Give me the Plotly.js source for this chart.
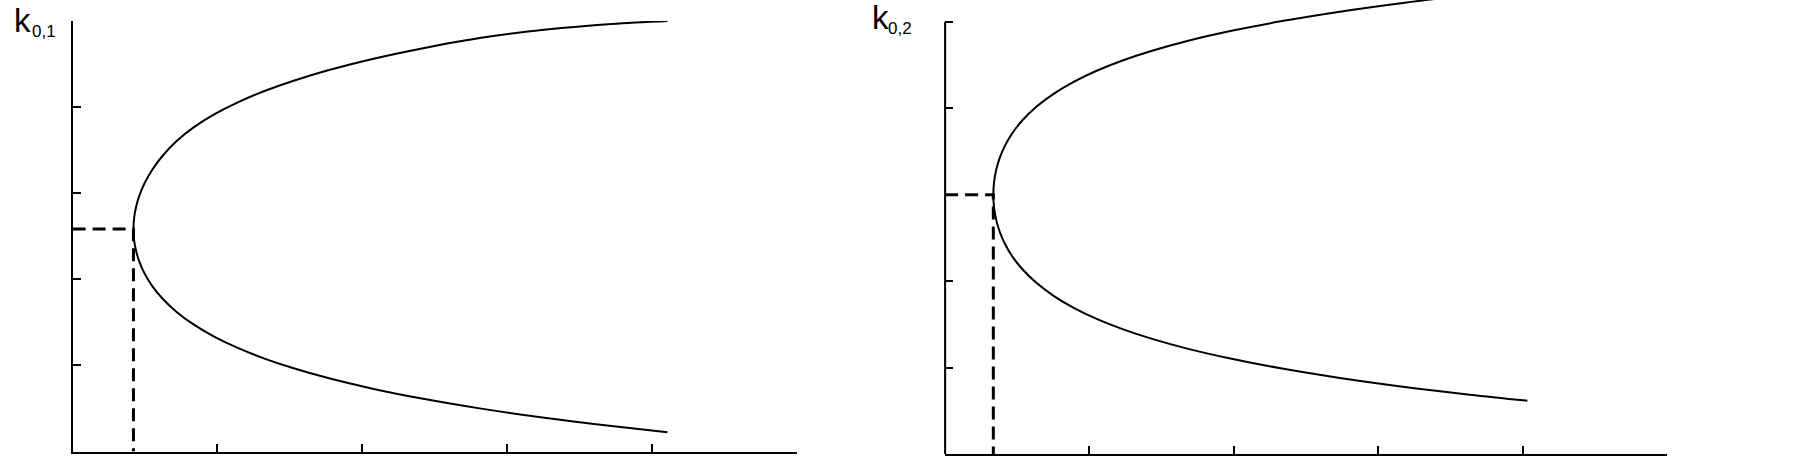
<!DOCTYPE html>
<html>
<head>
<meta charset="utf-8">
<script src="https://cdn.plot.ly/plotly-3.0.1.min.js"></script>
<style>
  html, body { margin: 0; padding: 0; background: #fff; }
  #plot { width: 1805px; height: 459px; }
</style>
</head>
<body>
<div id="plot"></div>
<script>
// panel 1 (k0,1): vertex and the two branches
const vertex1 = [0.42, 2.584];
const branch1X = [0.42, 0.425, 0.44, 0.465, 0.50, 0.55, 0.62, 0.72, 0.84, 0.98, 1.14, 1.32, 1.52, 1.77, 2.07, 2.42, 2.82, 3.27, 3.72, 4.106];
const upper1Y = [2.584, 2.719, 2.855, 2.991, 3.127, 3.273, 3.432, 3.608, 3.770, 3.918, 4.055, 4.184, 4.304, 4.431, 4.559, 4.684, 4.805, 4.900, 4.965, 5.0];
const lower1Y = [2.584, 2.449, 2.316, 2.185, 2.057, 1.921, 1.777, 1.618, 1.470, 1.332, 1.203, 1.082, 0.969, 0.850, 0.730, 0.612, 0.498, 0.389, 0.295, 0.223];

// panel 2 (k0,2): the upper branch leaves the frame at the top
const vertex2 = [0.334, 3.0];
const branch2X = [0.334, 0.339, 0.354, 0.379, 0.414, 0.464, 0.534, 0.634, 0.754, 0.894, 1.054, 1.234, 1.434, 1.684, 1.984, 2.334, 2.734, 3.184, 3.634, 4.033];
const upper2Y = [3.0, 3.146, 3.290, 3.430, 3.566, 3.709, 3.860, 4.022, 4.172, 4.311, 4.439, 4.557, 4.667, 4.783, 4.898, 5.011, 5.120, 5.224, 5.314];
const lower2Y = [3.0, 2.854, 2.710, 2.570, 2.434, 2.291, 2.141, 1.978, 1.828, 1.689, 1.561, 1.443, 1.333, 1.217, 1.102, 0.989, 0.880, 0.776, 0.687, 0.617];

const tickVals = [0, 1, 2, 3, 4, 5];
const labelMain = "k";
const labelSub1 = "0,1";
const labelSub2 = "0,2";

const W = 1805, H = 459;

function branchTrace(bx, uy, ly, xa, ya) {
    // upper branch from its far end down to the vertex, then the lower one outwards
    const ux = bx.slice(0, uy.length);
    const x = ux.slice().reverse().concat(bx.slice(1, ly.length));
    const y = uy.slice().reverse().concat(ly.slice(1));
    return {
        x: x, y: y, xaxis: xa, yaxis: ya,
        type: 'scatter', mode: 'lines',
        line: { color: 'black', width: 2, shape: 'spline', smoothing: 1 },
        hoverinfo: 'skip', showlegend: false
    };
}

function dashTrace(v, xa, ya) {
    return {
        x: [0, v[0], v[0]], y: [v[1], v[1], 0], xaxis: xa, yaxis: ya,
        type: 'scatter', mode: 'lines',
        line: { color: 'black', width: 3, dash: '13px,7px' },
        hoverinfo: 'skip', showlegend: false
    };
}

const data = [
    dashTrace(vertex1, 'x', 'y'),
    branchTrace(branch1X, upper1Y, lower1Y, 'x', 'y'),
    dashTrace(vertex2, 'x2', 'y2'),
    branchTrace(branch2X, upper2Y, lower2Y, 'x2', 'y2')
];

const axisBase = {
    showgrid: false, zeroline: false, showticklabels: false,
    ticks: 'inside', ticklen: 8, tickwidth: 2, tickcolor: 'black',
    tickmode: 'array', tickvals: tickVals,
    linecolor: 'black', linewidth: 2, fixedrange: true
};

const fontFam = 'Liberation Sans, Arial, sans-serif';

const layout = {
    width: W, height: H,
    margin: { l: 0, r: 0, t: 0, b: 0, pad: 0 },
    paper_bgcolor: 'white', plot_bgcolor: 'white',
    showlegend: false,
    xaxis: Object.assign({}, axisBase, { domain: [72.6 / W, 797 / W], range: [0, 5], showline: true, anchor: 'y' }),
    yaxis: Object.assign({}, axisBase, { domain: [1 - 451.5 / H, 1 - 21 / H], range: [0, 5], showline: true, anchor: 'x' }),
    xaxis2: Object.assign({}, axisBase, { domain: [945.1 / W, 1667 / W], range: [0, 5], showline: true, anchor: 'y2' }),
    // the curve runs past the top tick here, so the range goes higher and the axis line is a shape
    yaxis2: Object.assign({}, axisBase, { domain: [1 - 454 / H, 1], range: [0, 5.255], showline: false, anchor: 'x2' }),
    shapes: [
        { type: 'line', xref: 'paper', yref: 'y2', x0: 945.1 / W, x1: 945.1 / W, y0: 0, y1: 5,
          line: { color: 'black', width: 2 } }
    ],
    annotations: [
        { text: labelMain, xref: 'paper', yref: 'paper', x: 13 / W, y: 1 - 21 / H, xanchor: 'left', yanchor: 'middle',
          showarrow: false, borderpad: 0, font: { family: fontFam, size: 33, color: 'black' } },
        { text: labelSub1, xref: 'paper', yref: 'paper', x: 31 / W, y: 1 - 31 / H, xanchor: 'left', yanchor: 'middle',
          showarrow: false, borderpad: 0, font: { family: fontFam, size: 17, color: 'black' } },
        { text: labelMain, xref: 'paper', yref: 'paper', x: 871 / W, y: 1 - 18 / H, xanchor: 'left', yanchor: 'middle',
          showarrow: false, borderpad: 0, font: { family: fontFam, size: 33, color: 'black' } },
        { text: labelSub2, xref: 'paper', yref: 'paper', x: 887 / W, y: 1 - 29 / H, xanchor: 'left', yanchor: 'middle',
          showarrow: false, borderpad: 0, font: { family: fontFam, size: 17, color: 'black' } }
    ]
};

Plotly.newPlot('plot', data, layout, { staticPlot: true, displayModeBar: false });
</script>
</body>
</html>
